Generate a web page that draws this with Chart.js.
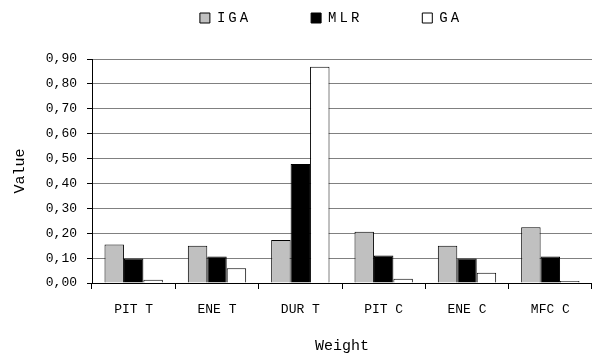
<!DOCTYPE html>
<html>
<head>
<meta charset="utf-8">
<script src="https://cdn.jsdelivr.net/npm/chart.js@4"></script>
<style>
  html, body { margin: 0; padding: 0; background: #fff; }
  #wrap { width: 592px; height: 357px; }
</style>
</head>
<body>
<div id="wrap"><canvas id="c" width="592" height="357"></canvas></div>
<script>
// Weight categories and the values of each method
const categories = ["PIT T", "ENE T", "DUR T", "PIT C", "ENE C", "MFC C"];
const igaValues = [0.155, 0.150, 0.173, 0.206, 0.150, 0.224];
const mlrValues = [0.098, 0.106, 0.478, 0.110, 0.098, 0.106];
const gaValues  = [0.013, 0.059, 0.869, 0.017, 0.041, 0.008];
const yTicks = [0, 0.1, 0.2, 0.3, 0.4, 0.5, 0.6, 0.7, 0.8, 0.9];

const FONT = "'Liberation Mono', 'DejaVu Sans Mono', monospace";
const LEGEND_PAD = 60;     // spacing between legend entries
const LEGEND_GAP = 24;     // extra space between legend and plot
const LEGEND_SHIFT = -11;  // legend row sits slightly left of the plot centre

// Legend entries use wider letter spacing, and the legend box keeps
// some extra room below its row.
const spacedLegend = {
  id: 'spacedLegend',
  afterInit(chart) {
    const lg = chart.legend;
    if (!lg) return;
    const withSpacing = (fn) => function (...args) {
      const ctx = this.ctx;
      const prev = ctx.letterSpacing;
      ctx.letterSpacing = '3px';
      const r = fn.apply(this, args);
      ctx.letterSpacing = prev || '0px';
      return r;
    };
    const fit = withSpacing(lg.fit);
    lg.fit = function (...args) {
      const r = fit.apply(this, args);
      this.height += LEGEND_GAP;
      return r;
    };
    const draw = withSpacing(lg.draw);
    lg.draw = function (...args) {
      this.ctx.save();
      this.ctx.translate(LEGEND_SHIFT, 0);
      const r = draw.apply(this, args);
      this.ctx.restore();
      return r;
    };
  }
};

new Chart(document.getElementById('c'), {
  type: 'bar',
  data: {
    labels: categories,
    datasets: [
      { label: 'IGA', data: igaValues, backgroundColor: '#c0c0c0' },
      { label: 'MLR', data: mlrValues, backgroundColor: '#000000' },
      { label: 'GA',  data: gaValues,  backgroundColor: '#ffffff' }
    ].map(d => Object.assign(d, {
      borderColor: '#000', borderWidth: 1,
      categoryPercentage: 0.7, barPercentage: 1.0
    }))
  },
  plugins: [spacedLegend],
  options: {
    responsive: false,
    animation: false,
    devicePixelRatio: 1,
    layout: { padding: { top: 11 - LEGEND_PAD, right: 0, left: 0, bottom: 0 } },
    plugins: {
      tooltip: { enabled: false },
      legend: {
        position: 'top',
        fullSize: false,
        labels: {
          font: { family: FONT, size: 14 },
          color: '#000',
          boxWidth: 10, boxHeight: 10,
          padding: LEGEND_PAD,
          generateLabels(chart) {
            return chart.data.datasets.map((ds, i) => ({
              text: ds.label, fillStyle: ds.backgroundColor,
              strokeStyle: '#000', lineWidth: 1, datasetIndex: i
            }));
          }
        }
      }
    },
    scales: {
      x: {
        grid: { display: true, drawOnChartArea: false, drawTicks: true, tickLength: 6, tickColor: '#000', offset: true },
        border: { color: '#000', width: 1 },
        ticks: { font: { family: FONT, size: 13 }, color: '#000', padding: 13 },
        title: { display: true, text: 'Weight', font: { family: FONT, size: 15 }, color: '#000', padding: { top: 4, bottom: 2 } },
        afterFit(s) { s.height = 74; }
      },
      y: {
        min: 0, max: 0.9,
        afterBuildTicks(s) { s.ticks = yTicks.map(v => ({ value: v })); },
        grid: { color: '#808080', tickColor: '#000', tickLength: 5 },
        border: { color: '#000', width: 1 },
        ticks: {
          font: { family: FONT, size: 13 }, color: '#000', padding: 10,
          callback: v => v.toFixed(2).replace('.', ',')
        },
        title: { display: true, text: 'Value', font: { family: FONT, size: 15 }, color: '#000', padding: { top: 11, bottom: 0 } },
        afterFit(s) { s.width = 92; }
      }
    }
  }
});
</script>
</body>
</html>
